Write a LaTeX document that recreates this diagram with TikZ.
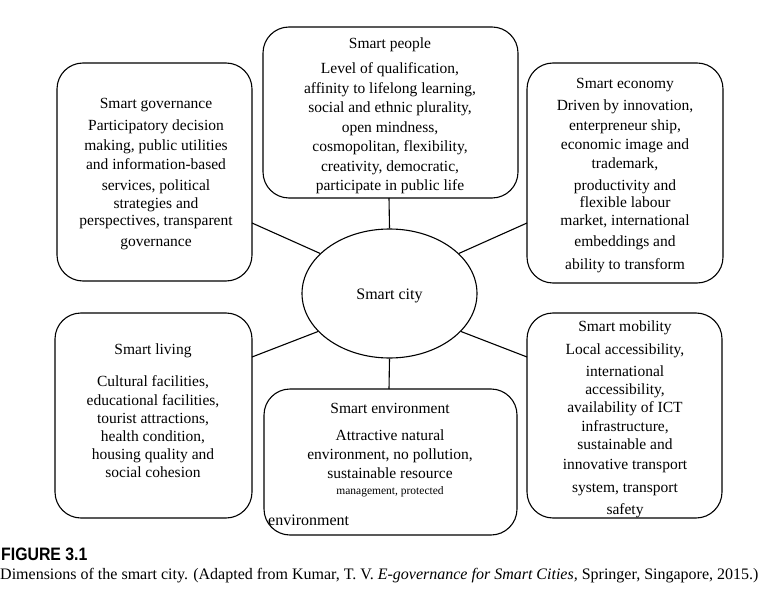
\documentclass[tikz,border=0pt]{standalone}
\usepackage{fontspec}
\setmainfont{Liberation Serif}
\newfontfamily\capsans{Liberation Sans}
\usetikzlibrary{shapes.geometric}
\begin{document}
\begin{tikzpicture}[x=1pt,y=-1pt,
  boxst/.style={draw,line width=1.1pt,rounded corners=26pt},
  link/.style={line width=1.1pt},
  txt/.style={align=center,inner sep=0pt,anchor=north,font=\fontsize{15.5}{19.5}\selectfont}]
\useasboundingbox (0,0) rectangle (759,601);
% boxes
\draw[boxst] (263,27) rectangle (518,198);
\draw[boxst] (57,63) rectangle (252,281);
\draw[boxst] (527,63) rectangle (723,283);
\draw[boxst] (55,313) rectangle (252,518);
\draw[boxst] (264,389) rectangle (517,535);
\draw[boxst] (527,313) rectangle (722,518);
\node[draw,ellipse,line width=1.1pt,minimum width=175pt,minimum height=129pt,inner sep=0pt] (city) at (389.5,293.5) {};
\node[font=\fontsize{16}{18}\selectfont] (citylabel) at (389.5,296) {Smart city};
% connectors
\coordinate (pB) at (389,198);
\coordinate (eT) at (389,389);
\coordinate (gR) at (252,223);
\coordinate (ecL) at (527,223);
\coordinate (lR) at (252,357);
\coordinate (mL) at (527,357);
\draw[link] (pB) -- (city.north);
\draw[link] (city.south) -- (eT);
\draw[link] (gR) -- (city.150);
\draw[link] (ecL) -- (city.30);
\draw[link] (lR) -- (city.208);
\draw[link] (mL) -- (city.332);
% texts
\node[txt] (people) at (390,38) {Smart people\\[5.5pt]
Level of qualification,\\
affinity to lifelong learning,\\
social and ethnic plurality,\\
open mindness,\\
cosmopolitan, flexibility,\\
creativity, democratic,\\
participate in public life};
\node[txt] (gov) at (156,98) {Smart governance\\[2.5pt]
Participatory decision\\[0.5pt]
making, public utilities\\[-0.5pt]
and information-based\\[1.5pt]
services, political\\[-1.5pt]
strategies and\\[-2.5pt]
perspectives, transparent\\[1.5pt]
governance};
\node[txt] (econ) at (625,78) {Smart economy\\[2.5pt]
Driven by innovation,\\[0.5pt]
enterpreneur ship,\\[-0.5pt]
economic image and\\[-0.5pt]
trademark,\\[2.5pt]
productivity and\\[-2.5pt]
flexible labour\\[-1.5pt]
market, international\\[1.5pt]
embeddings and\\[3.5pt]
ability to transform};
\node[txt] (living) at (153,344) {Smart living\\[12.5pt]
Cultural facilities,\\[-0.5pt]
educational facilities,\\[-1.5pt]
tourist attractions,\\[-1.5pt]
health condition,\\[-1.5pt]
housing quality and\\[-1.5pt]
social cohesion};
\node[txt] (envt) at (390,403) {Smart environment\\[7.5pt]
Attractive natural\\[-0.5pt]
environment, no pollution,\\[-0.5pt]
sustainable resource};
\node[inner sep=0pt,font=\fontsize{11.5}{13}\selectfont] (envsmall) at (390,492) {management, protected};
\node[inner sep=0pt,anchor=west,font=\fontsize{16}{18}\selectfont] (envword) at (268,520) {environment};
\node[txt] (mob) at (625,321) {Smart mobility\\[3.5pt]
Local accessibility,\\[2.5pt]
international\\[-1.5pt]
accessibility,\\[-1.5pt]
availability of ICT\\[-0.5pt]
infrastructure,\\[-1.5pt]
sustainable and\\[0.5pt]
innovative transport\\[3.5pt]
system, transport\\[2.5pt]
safety};
% caption
\node[inner sep=0pt,anchor=west,font=\capsans\bfseries\fontsize{18}{20}\selectfont] (figlabel) at (1,554) {\scalebox{0.88}[1]{FIGURE 3.1}};
\node[inner sep=0pt,anchor=west,font=\fontsize{16}{18}\selectfont] (caption) at (0,576) {Dimensions of the smart city. (Adapted from Kumar, T. V. \textit{E-governance for Smart Cities,} Springer, Singapore, 2015.)};
\end{tikzpicture}
\end{document}
